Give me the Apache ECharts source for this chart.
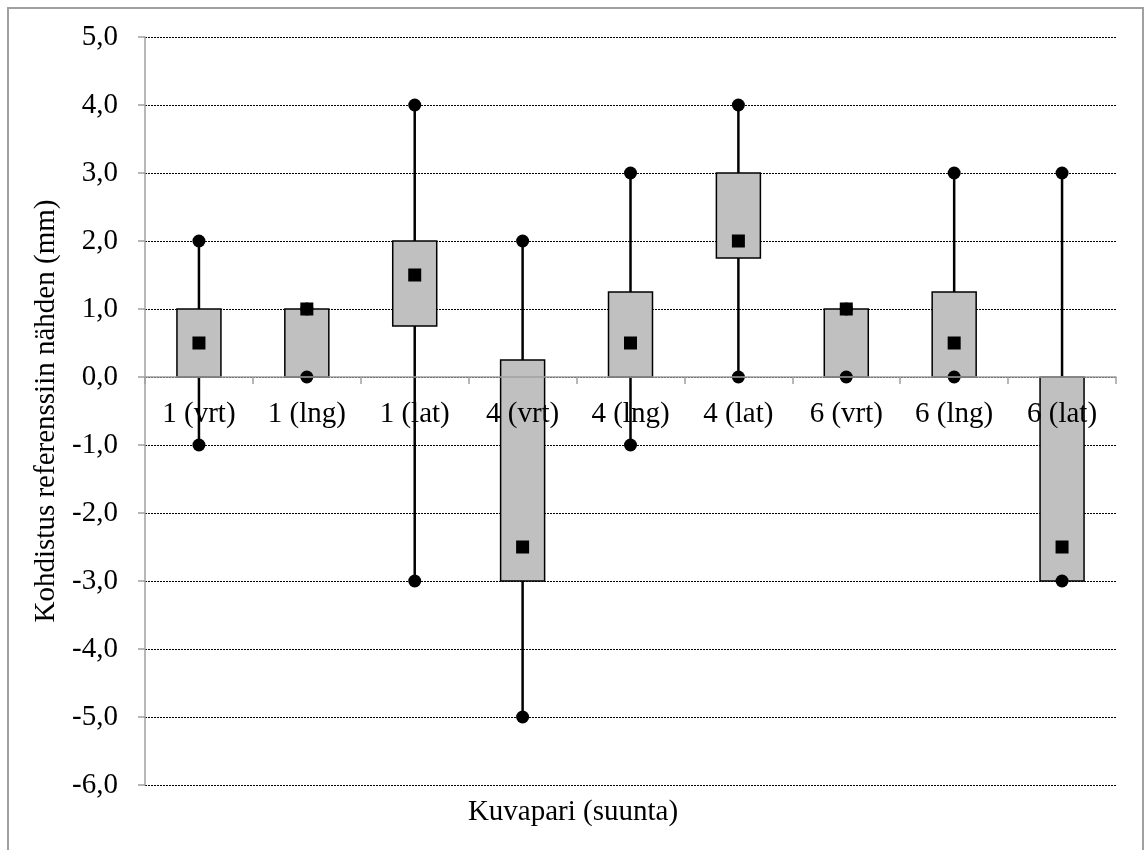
<!DOCTYPE html>
<html>
<head>
<meta charset="utf-8">
<script src="https://cdn.jsdelivr.net/npm/echarts@6/dist/echarts.min.js"></script>
<style>html,body{margin:0;padding:0;background:#fff;}#c{width:1146px;height:850px;}</style>
</head>
<body>
<div id="c"></div>
<script>
const categories = ['1 (vrt)', '1 (lng)', '1 (lat)', '4 (vrt)', '4 (lng)', '4 (lat)', '6 (vrt)', '6 (lng)', '6 (lat)'];
const minV   = [-1, 0, -3, -5, -1, 0, 0, 0, -3];
const q1     = [0, 0, 0.75, -3, 0, 1.75, 0, 0, -3];
const median = [0.5, 1, 1.5, -2.5, 0.5, 2, 1, 0.5, -2.5];
const q3     = [1, 1, 2, 0.25, 1.25, 3, 1, 1.25, 0];
const maxV   = [2, 1, 4, 2, 3, 4, 1, 3, 3];
const yMin = -6, yMax = 5;

const FONT = 'Liberation Serif';
const FS = 29;
const GRID = { left: 145, right: 30, top: 37, bottom: 65 };
const plotH = 850 - GRID.top - GRID.bottom;
// move the category axis up to value 0
const zeroOffset = -plotH * (0 - yMin) / (yMax - yMin);

const chart = echarts.init(document.getElementById('c'));

function renderItem(params, api) {
  const i = api.value(0);
  const pMin = api.coord([i, api.value(1)]);
  const pQ1 = api.coord([i, api.value(2)]);
  const pQ3 = api.coord([i, api.value(3)]);
  const pMax = api.coord([i, api.value(4)]);
  const bw = 44;
  return {
    type: 'group',
    children: [
      { type: 'line', shape: { x1: pMin[0], y1: pMin[1], x2: pMax[0], y2: pMax[1] },
        style: { stroke: '#000', lineWidth: 2.5 } },
      { type: 'rect', shape: { x: pQ1[0] - bw / 2, y: pQ3[1], width: bw, height: pQ1[1] - pQ3[1] },
        style: { fill: '#c0c0c0', stroke: '#000', lineWidth: 1.5 } }
    ]
  };
}

const boxData = categories.map((c, i) => [i, minV[i], q1[i], q3[i], maxV[i]]);
const dotData = [];
categories.forEach((c, i) => { dotData.push([i, minV[i]]); dotData.push([i, maxV[i]]); });
const medData = categories.map((c, i) => [i, median[i]]);

chart.setOption({
  animation: false,
  backgroundColor: '#fff',
  textStyle: { fontFamily: FONT },
  title: {
    text: 'Kuvapari (suunta)', left: 'center', top: 793,
    textStyle: { fontFamily: FONT, fontSize: FS, fontWeight: 'normal', color: '#000' }
  },
  graphic: [{
    type: 'rect', silent: true, z: -10,
    shape: { x: 8, y: 8, width: 1135, height: 900 },
    style: { fill: 'none', stroke: '#a0a0a0', lineWidth: 2 }
  }],
  grid: GRID,
  xAxis: {
    type: 'category', data: categories, z: 10,
    position: 'bottom', offset: zeroOffset,
    axisLine: { onZero: false, lineStyle: { color: '#a0a0a0', width: 1.5 } },
    axisTick: { show: true, length: 7, lineStyle: { color: '#a0a0a0', width: 1.5 } },
    axisLabel: { margin: 23, color: '#000', fontFamily: FONT, fontSize: FS },
    splitLine: { show: false }
  },
  yAxis: {
    type: 'value', min: yMin, max: yMax, interval: 1,
    name: 'Kohdistus referenssiin nähden (mm)', nameLocation: 'middle', nameGap: 82,
    nameTextStyle: { fontFamily: FONT, fontSize: FS, color: '#000' },
    axisLine: { show: true, lineStyle: { color: '#a0a0a0', width: 1.5 } },
    axisTick: { show: true, length: 7, lineStyle: { color: '#a0a0a0', width: 1.5 } },
    axisLabel: {
      margin: 27, color: '#000', fontFamily: FONT, fontSize: FS,
      formatter: v => v.toFixed(1).replace('.', ',')
    },
    splitLine: { show: true, lineStyle: { color: '#000', width: 1, type: [2, 1] } }
  },
  series: [
    { type: 'custom', renderItem: renderItem, data: boxData, encode: { x: 0, y: [1, 2, 3, 4] }, z: 2 },
    { type: 'scatter', data: dotData, symbol: 'circle', symbolSize: 13,
      itemStyle: { color: '#000', opacity: 1 }, z: 3 },
    { type: 'scatter', data: medData, symbol: 'rect', symbolSize: 13,
      itemStyle: { color: '#000', opacity: 1 }, z: 4 }
  ]
});
</script>
</body>
</html>
